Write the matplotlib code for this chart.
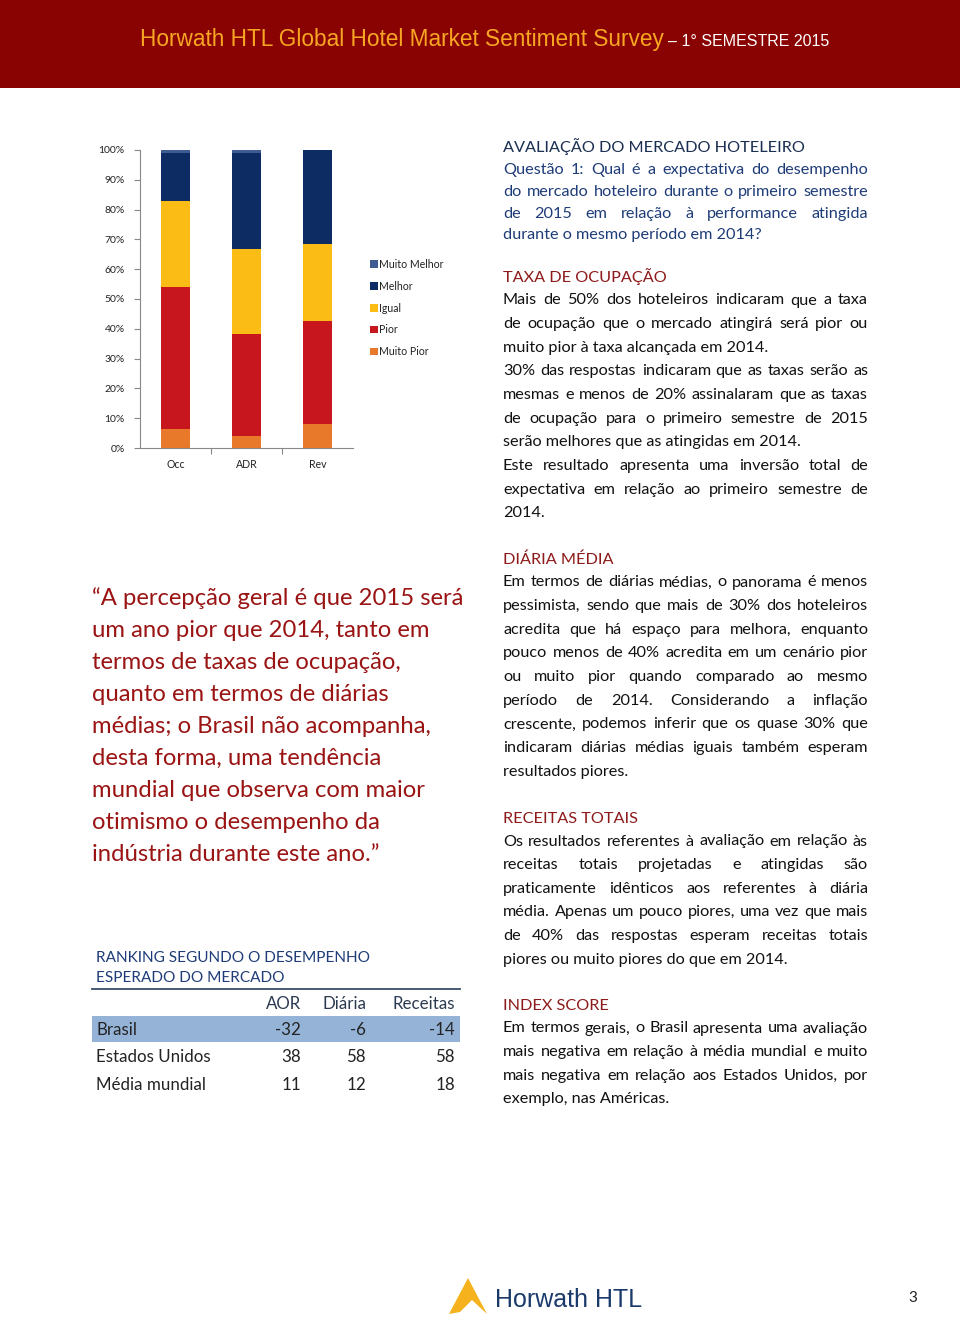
import matplotlib
matplotlib.use("Agg")
import matplotlib.pyplot as plt
from matplotlib.patches import Rectangle, Polygon
import numpy as np

W, H = 960, 1320

# ---------------- data ----------------
categories = ["Occ", "ADR", "Rev"]
series_names = ["Muito Pior", "Pior", "Igual", "Melhor", "Muito Melhor"]
muito_pior = [6.5, 4.1, 7.9]
pior = [47.6, 34.0, 34.7]
igual = [28.7, 28.6, 25.7]
melhor = [16.1, 32.2, 31.7]
muito_melhor = [1.1, 1.1, 0.0]
series_colors = ["#e8792a", "#c8161e", "#fbbc16", "#0d2c64", "#3e5c92"]
y_ticks = [0, 10, 20, 30, 40, 50, 60, 70, 80, 90, 100]
y_ticklabels = [f"{t}%" for t in y_ticks]

table_cols = ["AOR", "Diária", "Receitas"]
table_rows = ["Brasil", "Estados Unidos", "Média mundial"]
aor = [-32, 38, 11]
diaria = [-6, 58, 12]
receitas = [-14, 58, 18]

BODY = ["Lato", "DejaVu Sans"]

fig = plt.figure(figsize=(W / 100, H / 100), dpi=100)
fig.patch.set_facecolor("white")


def fx(x):
    return x / W


def fy(y):
    return 1 - y / H


# ---------------- header ----------------
fig.patches.append(Rectangle((0, fy(88)), 1, 88 / H, transform=fig.transFigure,
                             facecolor="#8a0303", edgecolor="none", zorder=0))
fig.text(fx(140), fy(46), "Horwath HTL Global Hotel Market Sentiment Survey",
         family=["Liberation Sans", "DejaVu Sans"], fontsize=16.3, color="#f7a623",
         va="baseline", ha="left")
fig.text(fx(668), fy(46), "\u2013 1° SEMESTRE 2015",
         family=["Liberation Sans", "DejaVu Sans"], fontsize=11.5, color="white",
         va="baseline", ha="left")

# ---------------- chart ----------------
ax = fig.add_axes([fx(140), fy(448), (353 - 140) / W, (448 - 150) / H])
x = np.arange(len(categories))
bottom = np.zeros(len(categories))
handles = []
for name, vals, col in zip(series_names,
                           [muito_pior, pior, igual, melhor, muito_melhor],
                           series_colors):
    b = ax.bar(x, vals, width=0.4, bottom=bottom, color=col, label=name, linewidth=0)
    handles.append(b)
    bottom += np.array(vals)

ax.set_xlim(-0.5, 2.5)
ax.set_ylim(0, 100)
ax.set_yticks(y_ticks)
ax.set_yticklabels(y_ticklabels, family=BODY, fontsize=7.5, color="#222222")
ax.set_xticks([0.5, 1.5], minor=False)
ax.set_xticklabels([])
ax.set_xticks(x, minor=True)
ax.set_xticklabels(categories, minor=True, family=BODY, fontsize=7.6, color="#222222")
ax.tick_params(axis="x", which="minor", length=0, pad=8)
ax.tick_params(axis="x", which="major", length=4, color="#888888", direction="out")
ax.tick_params(axis="y", length=4, color="#888888", direction="out", pad=7)
for s in ["top", "right"]:
    ax.spines[s].set_visible(False)
for s in ["left", "bottom"]:
    ax.spines[s].set_color("#888888")
    ax.spines[s].set_linewidth(0.8)

leg = fig.legend(handles[::-1], series_names[::-1], loc="upper left",
                 bbox_to_anchor=(fx(370), fy(259)), frameon=False,
                 prop={"family": BODY, "size": 7.6}, handlelength=0.75,
                 handleheight=0.75, handletextpad=0.1, labelspacing=1.02,
                 borderpad=0, borderaxespad=0)
for t in leg.get_texts():
    t.set_color("#222222")

# ---------------- justified text helper ----------------
renderer = fig.canvas.get_renderer()


def text_width(s, **kw):
    t = fig.text(0, 0, s, **kw)
    w = t.get_window_extent(renderer).width
    t.remove()
    return w


def draw_line(s, x0, x1, ybase, justify, **kw):
    if not justify:
        fig.text(fx(x0), fy(ybase), s, ha="left", va="baseline", **kw)
        return
    words = s.split(" ")
    widths = [text_width(w_, **kw) for w_ in words]
    gap = (x1 - x0 - sum(widths)) / (len(words) - 1)
    cx = x0
    for w_, wd in zip(words, widths):
        fig.text(fx(cx), fy(ybase), w_, ha="left", va="baseline", **kw)
        cx += wd + gap


RX0, RX1 = 503, 868
FS = 11.7
body_kw = dict(family=BODY, fontsize=FS, color="#111111")
navy = "#1b2f52"
blue = "#1e3c78"
red = "#8e1b1b"

fig.text(fx(RX0), fy(152), "AVALIAÇÃO DO MERCADO HOTELEIRO", family=BODY,
         fontsize=FS, color=navy, va="baseline")
q_lines = [("Questão 1: Qual é a expectativa do desempenho", True),
           ("do mercado hoteleiro durante o primeiro semestre", True),
           ("de 2015 em relação à performance atingida", True),
           ("durante o mesmo período em 2014?", False)]
for i, (s, j) in enumerate(q_lines):
    draw_line(s, RX0, RX1, 174 + i * 21.8, j, family=BODY, fontsize=FS, color=blue)

sections = [
    ("TAXA DE OCUPAÇÃO", 282, [
        ("Mais de 50% dos hoteleiros indicaram que a taxa", True),
        ("de ocupação que o mercado atingirá será pior ou", True),
        ("muito pior à taxa alcançada em 2014.", False),
        ("30% das respostas indicaram que as taxas serão as", True),
        ("mesmas e menos de 20% assinalaram que as taxas", True),
        ("de ocupação para o primeiro semestre de 2015", True),
        ("serão melhores que as atingidas em 2014.", False),
        ("Este resultado apresenta uma inversão total de", True),
        ("expectativa em relação ao primeiro semestre de", True),
        ("2014.", False)]),
    ("DIÁRIA MÉDIA", 564, [
        ("Em termos de diárias médias, o panorama é menos", True),
        ("pessimista, sendo que mais de 30% dos hoteleiros", True),
        ("acredita que há espaço para melhora, enquanto", True),
        ("pouco menos de 40% acredita em um cenário pior", True),
        ("ou muito pior quando comparado ao mesmo", True),
        ("período de 2014. Considerando a inflação", True),
        ("crescente, podemos inferir que os quase 30% que", True),
        ("indicaram diárias médias iguais também esperam", True),
        ("resultados piores.", False)]),
    ("RECEITAS TOTAIS", 823, [
        ("Os resultados referentes à avaliação em relação às", True),
        ("receitas totais projetadas e atingidas são", True),
        ("praticamente idênticos aos referentes à diária", True),
        ("média. Apenas um pouco piores, uma vez que mais", True),
        ("de 40% das respostas esperam receitas totais", True),
        ("piores ou muito piores do que em 2014.", False)]),
    ("INDEX SCORE", 1010, [
        ("Em termos gerais, o Brasil apresenta uma avaliação", True),
        ("mais negativa em relação à média mundial e muito", True),
        ("mais negativa em relação aos Estados Unidos, por", True),
        ("exemplo, nas Américas.", False)]),
]
for title, ytitle, lines in sections:
    fig.text(fx(RX0), fy(ytitle), title, family=BODY, fontsize=FS, color=red,
             va="baseline")
    for i, (s, j) in enumerate(lines):
        draw_line(s, RX0, RX1, ytitle + 22.5 + i * 23.65, j, **body_kw)

# ---------------- quote ----------------
quote_lines = ["\u201cA percepção geral é que 2015 será",
               "um ano pior que 2014, tanto em",
               "termos de taxas de ocupação,",
               "quanto em termos de diárias",
               "médias; o Brasil não acompanha,",
               "desta forma, uma tendência",
               "mundial que observa com maior",
               "otimismo o desempenho da",
               "indústria durante este ano.\u201d"]
for i, s in enumerate(quote_lines):
    fig.text(fx(92), fy(605 + i * 32), s, family=BODY, fontsize=17.2,
             color="#9a1414", va="baseline", ha="left")

# ---------------- table ----------------
fig.text(fx(96), fy(962), "RANKING SEGUNDO O DESEMPENHO", family=BODY, fontsize=11.1,
         color=blue, va="baseline")
fig.text(fx(96), fy(982), "ESPERADO DO MERCADO", family=BODY, fontsize=11.1,
         color=blue, va="baseline")
fig.lines.append(plt.Line2D([fx(92), fx(460)], [fy(989), fy(989)],
                            transform=fig.transFigure, color="#3a4e6a", lw=1.3))
col_right = [301, 366, 455]
TFS = 12.2
for cname, xr in zip(table_cols, col_right):
    fig.text(fx(xr), fy(1009), cname, family=BODY, fontsize=TFS, color="#2b3a50",
             ha="right", va="baseline")
fig.patches.append(Rectangle((fx(92), fy(1042)), (460 - 92) / W, 26 / H,
                             transform=fig.transFigure, facecolor="#95b3d7",
                             edgecolor="none", zorder=0))
for r, (rname, a, d, rc) in enumerate(zip(table_rows, aor, diaria, receitas)):
    yb = 1035 + r * 27.5
    fig.text(fx(96), fy(yb), rname, family=BODY, fontsize=TFS, color="#222222",
             va="baseline")
    for v, xr in zip([a, d, rc], col_right):
        fig.text(fx(xr), fy(yb), str(v), family=BODY, fontsize=TFS, color="#222222",
                 ha="right", va="baseline")

# ---------------- footer logo ----------------
gold = "#f5b21c"
fig.patches.append(Polygon([(fx(449), fy(1314)), (fx(468), fy(1278)), (fx(487), fy(1314)),
                            (fx(472), fy(1300)), (fx(460), fy(1312))],
                           closed=True, transform=fig.transFigure, facecolor=gold,
                           edgecolor="none"))
fig.text(fx(495), fy(1307), "Horwath HTL",
         family=["Liberation Sans", "DejaVu Sans"],
         fontsize=18, color="#1b3a6b", va="baseline", ha="left")
fig.text(fx(913), fy(1302), "3", family=BODY, fontsize=11, color="#222222",
         va="baseline", ha="center")

fig.savefig("out.png", dpi=100)
